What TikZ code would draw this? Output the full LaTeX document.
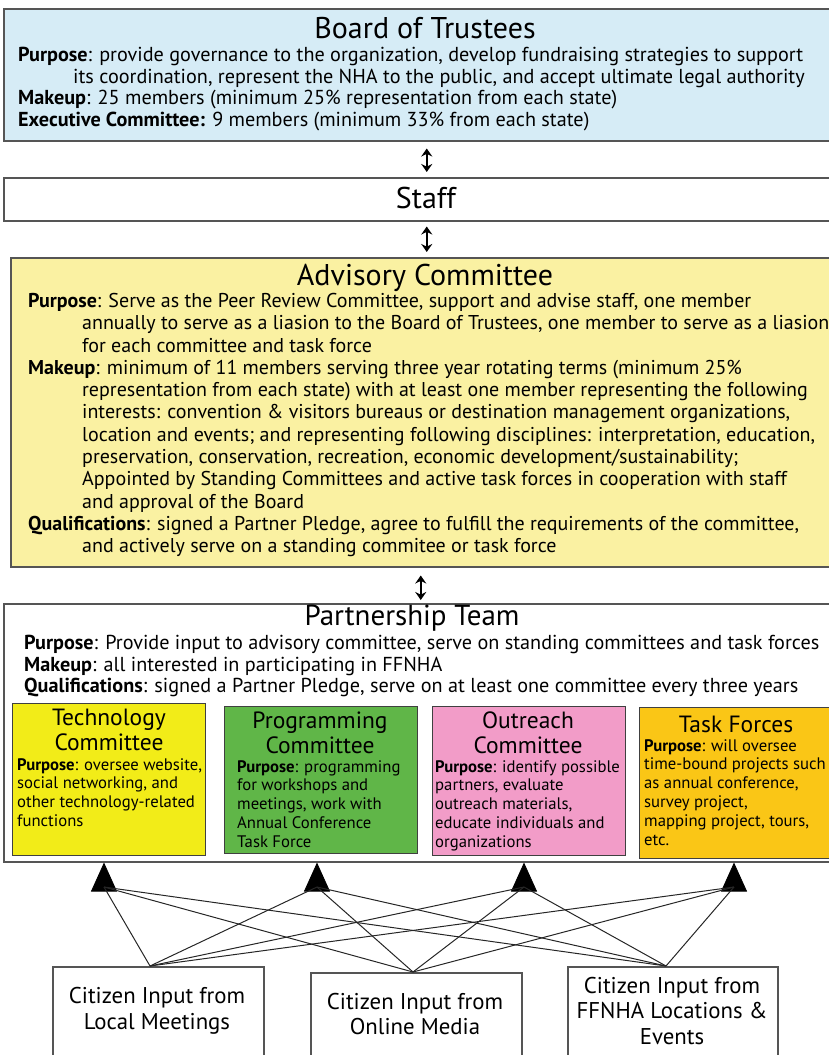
\documentclass[tikz,border=0pt]{standalone}
\usepackage{fontspec}
\setmainfont{PT Sans}
\usetikzlibrary{positioning,arrows.meta}
\definecolor{boardblue}{RGB}{214,236,246}
\definecolor{advyellow}{RGB}{250,241,162}
\definecolor{techyellow}{RGB}{242,236,24}
\definecolor{proggreen}{RGB}{96,182,72}
\definecolor{outpink}{RGB}{242,156,200}
\definecolor{taskorange}{RGB}{250,198,22}
\definecolor{framegray}{RGB}{85,85,85}

\begin{document}
\begin{tikzpicture}[x=1pt,y=-1pt,
  box/.style={draw=framegray,line width=1.5pt,anchor=north west,inner sep=0},
  cbox/.style={draw=black!75,line width=1.2pt,anchor=north west,inner sep=0,
    minimum width=193,minimum height=150},
  headline/.style={font=\fontsize{30}{34}\selectfont,inner sep=0},
  bodytext/.style={font=\fontsize{20.2}{21.6}\selectfont,align=left,anchor=north west,inner sep=0},
  chead/.style={font=\fontsize{23.5}{25}\selectfont,align=center,inner sep=0},
  ctext/.style={font=\fontsize{16.7}{18.8}\selectfont,align=left,anchor=north west,inner sep=0},
  citizen/.style={font=\fontsize{22.8}{25.5}\selectfont,align=center,inner sep=0},
  updown/.style={{Stealth[length=8pt,width=11pt]}-{Stealth[length=8pt,width=11pt]},line width=1.6pt},
  upto/.style={-{Triangle[length=29pt,width=26pt]},line width=0.8pt},
  feed/.style={line width=1pt,black!85}]
\useasboundingbox (0,0) rectangle (828,1055);

% board of trustees
\node[box,fill=boardblue,minimum width=830,minimum height=132] (board) at (3,8) {};
\node[headline] (boardt) at (425,28) {Board of Trustees};
\node[bodytext] (boardb) at (18,47) {\textbf{Purpose}: provide governance to the organization, develop fundraising strategies to support\\
\hspace*{55pt}its coordination, represent the NHA to the public, and accept ultimate legal authority\\
\textbf{Makeup}: 25 members (minimum 25\% representation from each state)\\
\textbf{Executive Committee:} 9 members (minimum 33\% from each state)};

% staff
\node[box,minimum width=830,minimum height=43] (staff) at (3,177) {};
\node[headline] (stafft) at (426,198) {Staff};

% advisory committee
\node[box,fill=advyellow,minimum width=830,minimum height=309] (adv) at (10,257) {};
\node[headline] (advt) at (425,278) {Advisory Committee};
\node[bodytext,font=\fontsize{20}{22.3}\selectfont] (advb) at (28,293) {\textbf{Purpose}: Serve as the Peer Review Committee, support and advise staff, one member\\
\hspace*{54pt}annually to serve as a liasion to the Board of Trustees, one member to serve as a liasion\\
\hspace*{54pt}for each committee and task force\\
\textbf{Makeup}: minimum of 11 members serving three year rotating terms (minimum 25\%\\
\hspace*{54pt}representation from each state) with at least one member representing the following\\
\hspace*{54pt}interests: convention \& visitors bureaus or destination management organizations,\\
\hspace*{54pt}location and events; and representing following disciplines: interpretation, education,\\
\hspace*{54pt}preservation, conservation, recreation, economic development/sustainability;\\
\hspace*{54pt}Appointed by Standing Committees and active task forces in cooperation with staff\\
\hspace*{54pt}and approval of the Board\\
\textbf{Qualifications}: signed a Partner Pledge, agree to fulfill the requirements of the committee,\\
\hspace*{54pt}and actively serve on a standing commitee or task force};

% partnership team
\node[box,minimum width=830,minimum height=258] (team) at (3,603) {};
\node[headline,font=\fontsize{29}{32}\selectfont] (teamt) at (412,618) {Partnership Team};
\node[bodytext] (teamb) at (24,635) {\textbf{Purpose}: Provide input to advisory committee, serve on standing committees and task forces\\
\textbf{Makeup}: all interested in participating in FFNHA\\
\textbf{Qualifications}: signed a Partner Pledge, serve on at least one committee every three years};

% committees
\node[cbox,fill=techyellow,minimum height=152] (tech) at (12,703) {};
\node[chead] (techt) at (109,730) {Technology\\Committee};
\node[ctext] (techb) at (17,758) {\textbf{Purpose}: oversee website,\\social networking, and\\other technology-related\\functions};

\node[cbox,fill=proggreen,minimum height=147] (prog) at (224,706) {};
\node[chead] (progt) at (320,733) {Programming\\Committee};
\node[ctext] (progb) at (237,760) {\textbf{Purpose}: programming\\for workshops and\\meetings, work with\\Annual Conference\\Task Force};

\node[cbox,fill=outpink,minimum height=149] (out) at (432,706) {};
\node[chead] (outt) at (528,733) {Outreach\\Committee};
\node[ctext] (outb) at (435,760) {\textbf{Purpose}: identify possible\\partners, evaluate\\outreach materials,\\educate individuals and\\organizations};

\node[cbox,fill=taskorange,minimum width=200,minimum height=151] (task) at (639,707) {};
\node[chead] (taskt) at (736,724) {Task Forces};
\node[ctext] (taskb) at (644,739) {\textbf{Purpose}: will oversee\\time-bound projects such\\as annual conference,\\survey project,\\mapping project, tours,\\etc.};

% citizen input
\node[box,minimum width=211,minimum height=100] (local) at (52,966) {};
\node[citizen] (localt) at (157,1011) {Citizen Input from\\Local Meetings};
\node[box,minimum width=211,minimum height=100] (online) at (310,972) {};
\node[citizen] (onlinet) at (415,1014) {Citizen Input from\\Online Media};
\node[box,minimum width=210,minimum height=100] (site) at (567,966) {};
\node[citizen] (sitet) at (672,1011) {Citizen Input from\\FFNHA Locations \&\\Events};

% arrows between levels
\draw[updown] ([xshift=8pt,yshift=-7pt]board.south) -- ([xshift=8pt,yshift=5pt]staff.north);
\draw[updown] ([xshift=8pt,yshift=-5pt]staff.south) -- ([xshift=1pt,yshift=5pt]adv.north);
\draw[updown] ([xshift=-5pt,yshift=-8pt]adv.south) -- ([xshift=2pt,yshift=3pt]team.north);

% inputs to committees
\coordinate (in1) at (104,887);
\coordinate (in2) at (317,887);
\coordinate (in3) at (524,887);
\coordinate (in4) at (734,887);
\coordinate (src1) at (150,966);
\coordinate (src2) at (413,972);
\coordinate (src3) at (666,966);
\foreach \i in {1,2,3,4}
  \draw[upto] (in\i) -- (in\i |- team.south);
\foreach \s in {1,2,3}
  \foreach \i in {1,2,3,4}
    \draw[feed] (src\s) -- (in\i);
\end{tikzpicture}
\end{document}
